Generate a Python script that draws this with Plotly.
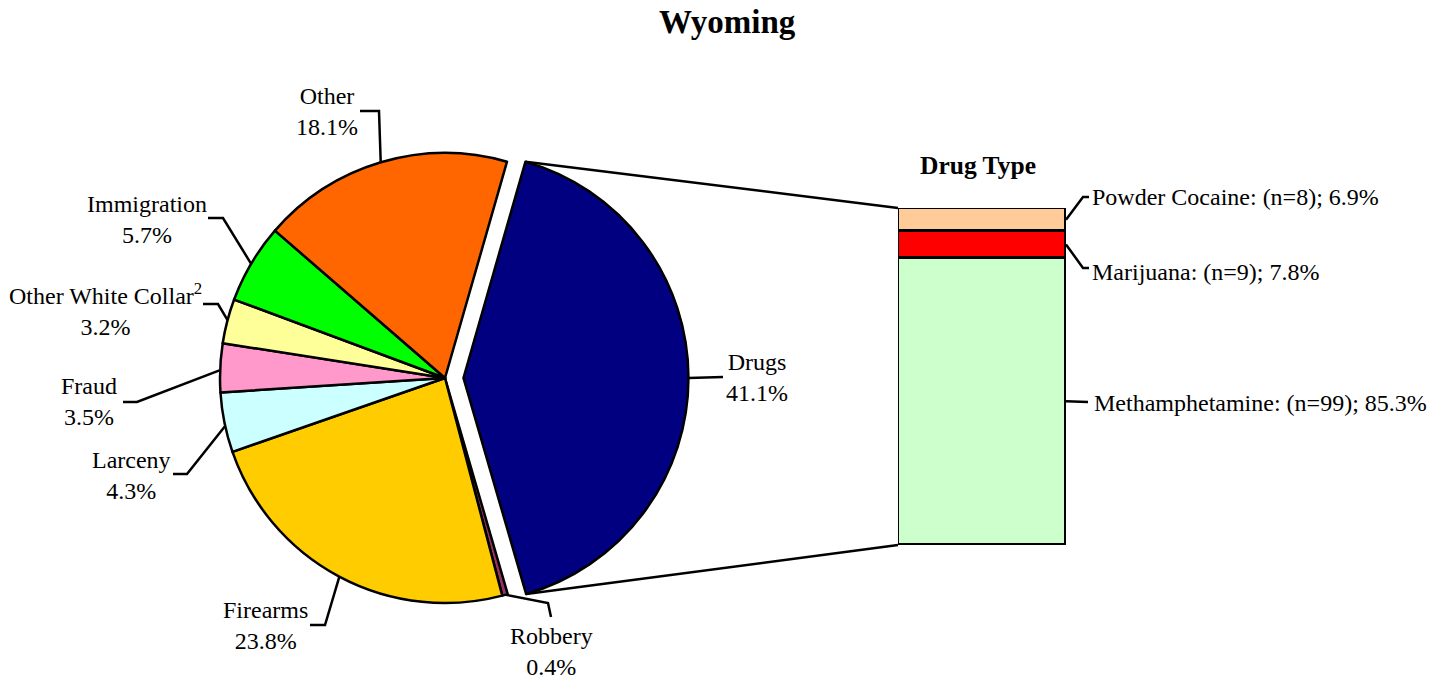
import math
import plotly.graph_objects as go

# ---------------- data ----------------
categories = ["Drugs", "Robbery", "Firearms", "Larceny", "Fraud",
              "Other White Collar", "Immigration", "Other"]
shares = [41.1, 0.4, 23.8, 4.3, 3.5, 3.2, 5.7, 18.1]

drug_types = ["Methamphetamine", "Marijuana", "Powder Cocaine"]
drug_counts = [99, 9, 8]
drug_shares = [85.3, 7.8, 6.9]

title_text = "Wyoming"
bar_title = "Drug Type"

# ---------------- styles ----------------
pie_colors = ["#000080", "#993366", "#FFCC00", "#CCFFFF", "#FF99CC",
              "#FFFF99", "#00FF00", "#FF6600"]
bar_colors = ["#CCFFCC", "#FF0000", "#FFCC99"]
FONT = "Liberation Serif, Times New Roman, serif"
FS = 24
LW = 2.5

W, H = 1444, 676                   # browser window
OFF = 8                            # page offset of the figure (body margin)
FW, FH = W - OFF, H - OFF          # figure size so it fits the window
CX, CY, R = 445, 378, 225          # pie centre / radius in page pixels
PULL = 0.082                       # explode fraction for Drugs
ROT = 16                           # start angle (deg, clockwise from 12 o'clock)
BX0, BX1, BY0, BY1 = 898, 1066, 208, 545   # bar box in page pixels


def px_x(p):
    return (p - OFF) / FW


def px_y(p):
    return 1 - (p - OFF) / FH


total = sum(shares)
starts = []
acc = ROT
for s in shares:
    starts.append(acc)
    acc += s / total * 360
ends = [st + s / total * 360 for st, s in zip(starts, shares)]
mid_drug = (starts[0] + ends[0]) / 2
pull_dx = PULL * R * math.sin(math.radians(mid_drug))
pull_dy = -PULL * R * math.cos(math.radians(mid_drug))


def pie_pt(angle, pulled=False):
    a = math.radians(angle)
    x = CX + R * math.sin(a)
    y = CY - R * math.cos(a)
    if pulled:
        x += pull_dx
        y += pull_dy
    return (x, y)


fig = go.Figure()

# pie
half = R * (1 + PULL)
fig.add_trace(go.Pie(
    labels=categories, values=shares, sort=False, direction="clockwise",
    rotation=ROT, pull=[PULL] + [0] * (len(shares) - 1),
    marker=dict(colors=pie_colors, line=dict(color="black", width=LW)),
    textinfo="none", hoverinfo="label+percent", showlegend=False,
    domain=dict(x=[px_x(CX - half), px_x(CX + half)],
                y=[px_y(CY + half), px_y(CY - half)]),
))

# stacked bar
for name, val, col in zip(drug_types, drug_shares, bar_colors):
    fig.add_trace(go.Bar(
        x=[0], y=[val], name=name, width=1, cliponaxis=False,
        marker=dict(color=col, line=dict(color="black", width=3)),
        xaxis="x2", yaxis="y2", showlegend=False,
    ))

# ---------------- pixel overlay: leader lines and connectors ----------------
label_layout = {
    # name: (text x, text y, [elbow points...], pie angle, pulled)
    "Other": (327, 111, [(360, 111), (379, 111)], 343.4, False),
    "Immigration": (147, 219, [(208, 218), (223, 218)], 300.5, False),
    "Other White Collar": (105, 309, [(203, 304), (218, 304)], 284.9, False),
    "Fraud": (89, 401, [(123, 402), (137, 402)], 272.0, False),
    "Larceny": (131, 475, [(173, 474), (187, 474)], 257.7, False),
    "Firearms": (265, 625, [(310, 625), (325, 625)], 208.0, False),
    "Robbery": (551, 651, [(551, 617), (548, 603)], 164.4, False),
    "Drugs": (757, 377, [(723, 377)], 90.0, True),
}

annotations = []
for name, s in zip(categories, shares):
    tx, ty, pts, ang, pulled = label_layout[name]
    end = pie_pt(ang, pulled)
    xs = [p[0] for p in pts] + [end[0]]
    ys = [p[1] for p in pts] + [end[1]]
    fig.add_trace(go.Scatter(x=xs, y=ys, mode="lines",
                             line=dict(color="black", width=LW),
                             xaxis="x3", yaxis="y3", showlegend=False,
                             hoverinfo="skip", cliponaxis=False))
    disp = "Other White Collar<sup>2</sup>" if name == "Other White Collar" else name
    annotations.append(dict(x=tx, y=ty, xref="x3", yref="y3",
                            text=f"{disp}<br>{s:.1f}%", showarrow=False,
                            xanchor="center", yanchor="middle", align="center",
                            font=dict(family=FONT, size=FS, color="black")))

# connectors from exploded slice to bar
top_v = pie_pt(starts[0], True)
bot_v = pie_pt(ends[0], True)
for v, by in ((top_v, BY0), (bot_v, BY1)):
    fig.add_trace(go.Scatter(x=[v[0], BX0], y=[v[1], by], mode="lines",
                             line=dict(color="black", width=LW),
                             xaxis="x3", yaxis="y3", showlegend=False,
                             hoverinfo="skip", cliponaxis=False))

# bar labels
bar_h = BY1 - BY0
cum = 0
seg_mid = []
for val in drug_shares:
    seg_mid.append(BY1 - (cum + val / 2) / 100 * bar_h)
    cum += val
bar_label_layout = {
    "Powder Cocaine": (1090, 197, [(1083, 197), (1089, 197)]),
    "Marijuana": (1090, 272, [(1083, 268), (1089, 268)]),
    "Methamphetamine": (1092, 403, [(1088, 402)]),
}
for name, cnt, val, ym in zip(drug_types, drug_counts, drug_shares, seg_mid):
    tx, ty, pts = bar_label_layout[name]
    xs = [BX1] + [p[0] for p in pts]
    ys = [ym] + [p[1] for p in pts]
    fig.add_trace(go.Scatter(x=xs, y=ys, mode="lines",
                             line=dict(color="black", width=LW),
                             xaxis="x3", yaxis="y3", showlegend=False,
                             hoverinfo="skip", cliponaxis=False))
    annotations.append(dict(x=tx, y=ty, xref="x3", yref="y3",
                            text=f"{name}: (n={cnt}); {val:.1f}%",
                            showarrow=False, xanchor="left", yanchor="middle",
                            font=dict(family=FONT, size=FS, color="black")))

annotations.append(dict(x=978, y=165, xref="x3", yref="y3",
                        text=f"<b>{bar_title}</b>", showarrow=False,
                        xanchor="center", yanchor="middle",
                        font=dict(family=FONT, size=25.5, color="black")))
annotations.append(dict(x=727, y=22, xref="x3", yref="y3",
                        text=f"<b>{title_text}</b>", showarrow=False,
                        xanchor="center", yanchor="middle",
                        font=dict(family=FONT, size=33, color="black")))

fig.update_layout(
    width=FW, height=FH,
    margin=dict(l=0, r=0, t=0, b=0, pad=0),
    paper_bgcolor="white", plot_bgcolor="rgba(0,0,0,0)",
    barmode="stack", bargap=0,
    font=dict(family=FONT, size=FS, color="black"),
    xaxis2=dict(domain=[px_x(BX0), px_x(BX1)], range=[-0.5, 0.5],
                visible=False, anchor="y2", fixedrange=True),
    yaxis2=dict(domain=[px_y(BY1), px_y(BY0)], range=[0, 100],
                visible=False, anchor="x2", fixedrange=True),
    xaxis3=dict(domain=[0, 1], range=[OFF, W], visible=False,
                anchor="y3", fixedrange=True),
    yaxis3=dict(domain=[0, 1], range=[H, OFF], visible=False,
                anchor="x3", fixedrange=True),
    annotations=annotations,
)

fig.write_html("out.html")
